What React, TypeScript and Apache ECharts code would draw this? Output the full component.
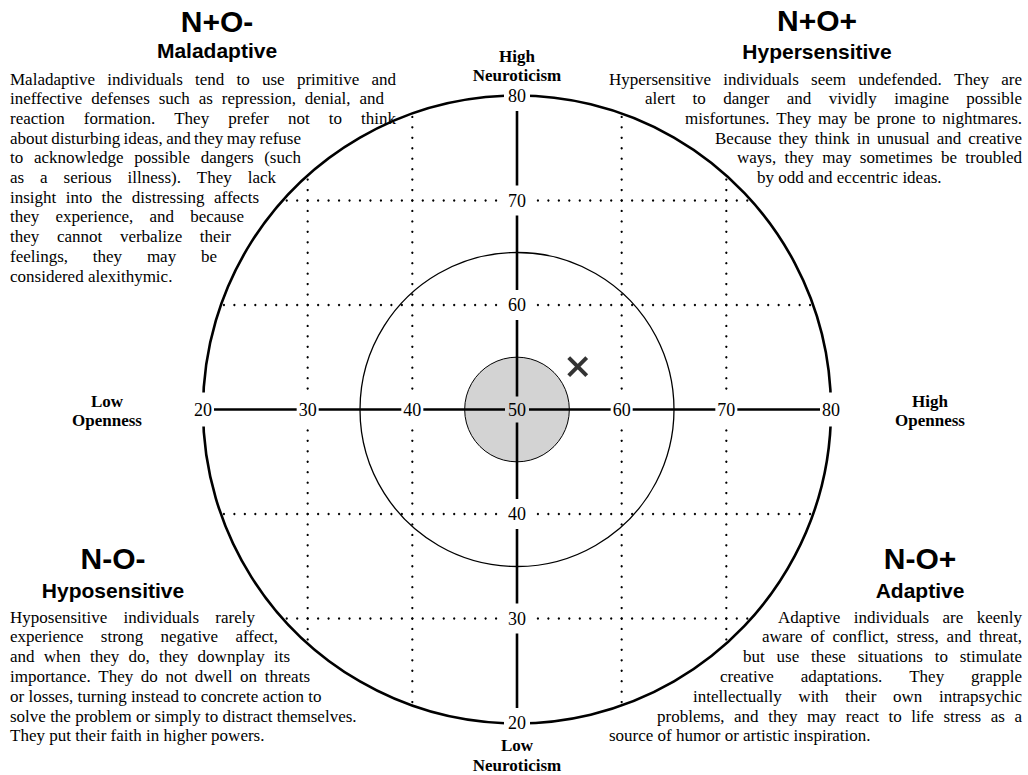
import React, { useEffect, useRef } from "react";
import * as echarts from "echarts";

// ---- chart values ----
const axisMin = 20;
const axisMax = 80;
const centerValue = 50;
const horizontalTicks = [20, 30, 40, 50, 60, 70, 80];
const verticalTicks = [20, 30, 40, 60, 70, 80];
const gridValues = [30, 40, 60, 70];
const ringRadii = [30, 15, 5];
const markerPoints = [[55.8, 54.1]];

// ---- texts ----
const quadrantCodes = ["N+O-", "N+O+", "N-O-", "N-O+"];
const quadrantNames = ["Maladaptive", "Hypersensitive", "Hyposensitive", "Adaptive"];
const maladaptiveText = [
  "Maladaptive individuals tend to use primitive and",
  "ineffective defenses such as repression, denial, and",
  "reaction formation. They prefer not to think",
  "about disturbing ideas, and they may refuse",
  "to acknowledge possible dangers (such",
  "as a serious illness).  They lack",
  "insight into the distressing affects",
  "they experience, and because",
  "they cannot verbalize their",
  "feelings, they may be",
  "considered alexithymic.",
];
const hypersensitiveText = [
  "Hypersensitive individuals seem undefended. They are",
  "alert to danger and vividly imagine possible",
  "misfortunes. They may be prone to nightmares.",
  "Because they think in unusual and creative",
  "ways, they may sometimes be troubled",
  "by odd and eccentric ideas.",
];
const hyposensitiveText = [
  "Hyposensitive individuals rarely",
  "experience strong negative affect,",
  "and when they do, they downplay its",
  "importance. They do not dwell on threats",
  "or losses, turning instead to concrete action to",
  "solve the problem or simply to distract themselves.",
  "They put their faith in higher powers.",
];
const adaptiveText = [
  "Adaptive individuals are keenly",
  "aware of  conflict, stress, and threat,",
  "but use these situations to stimulate",
  "creative adaptations. They grapple",
  "intellectually with their own intrapsychic",
  "problems, and they may react to life stress as a",
  "source of humor or artistic inspiration.",
];
const axisTitleLines = ["High", "Neuroticism", "Low", "Neuroticism", "Low", "Openness", "High", "Openness"];

// ---- layout (positions only) ----
const headerLayout = [
  { x: 217, y1: 21, y2: 50 },
  { x: 817, y1: 20, y2: 51 },
  { x: 113, y1: 558, y2: 590 },
  { x: 920, y1: 558, y2: 590 },
];
const paragraphLayout = [
  { top: 79, step: 19.7, spans: [[10, 396], [10, 384], [10, 396], [10, 301], [10, 301], [10, 276], [10, 259], [10, 244], [10, 231], [10, 217], [10, null]] },
  { top: 79, step: 19.7, spans: [[609, 1022], [645, 1022], [685, 1022], [715, 1022], [737, 1022], [757, null]] },
  { top: 617, step: 19.8, spans: [[10, 255], [10, 278], [10, 290], [10, 310], [10, null], [10, null], [10, null]] },
  { top: 617, step: 19.8, spans: [[778, 1022], [762, 1022], [743, 1022], [720, 1022], [693, 1022], [657, 1022], [609, null]] },
];
const axisTitlePos = [
  [517, 56], [517, 75], [517, 745], [517, 765], [107, 401], [107, 420], [930, 401], [930, 420],
];

const SERIF = "Liberation Serif";
const SANS = "Liberation Sans";
const BODY_SIZE = 17;
const CORE_FILL = "#d3d3d3";

function makeText(text: string, x: number, y: number, size: number, family: string, weight: string, align: string) {
  return {
    type: "text",
    x,
    y,
    silent: true,
    style: {
      text,
      fontSize: size,
      fontFamily: family,
      fontWeight: weight,
      fill: "#000",
      align,
      textAlign: align,
      verticalAlign: "middle",
      textVerticalAlign: "middle",
    },
  };
}

function buildParagraph(lines: string[], layout: any, ctx: CanvasRenderingContext2D) {
  const els: any[] = [];
  ctx.font = `${BODY_SIZE}px "${SERIF}"`;
  lines.forEach((line, i) => {
    const y = layout.top + layout.step * i;
    const [left, right] = layout.spans[i];
    const words = line.split(/\s+/).filter(Boolean);
    if (right == null || words.length < 2) {
      els.push(makeText(line, left, y, BODY_SIZE, SERIF, "normal", "left"));
      return;
    }
    const widths = words.map((w) => ctx.measureText(w).width);
    const total = widths.reduce((a, b) => a + b, 0);
    const gap = Math.max(3, (right - left - total) / (words.length - 1));
    let x = left;
    words.forEach((w, k) => {
      els.push(makeText(w, x, y, BODY_SIZE, SERIF, "normal", "left"));
      x += widths[k] + gap;
    });
  });
  return els;
}

export default function App() {
  const ref = useRef<HTMLDivElement>(null);
  useEffect(() => {
    if (!ref.current) return;
    const chart = echarts.init(ref.current, undefined, { renderer: "svg" });
    const canvas = document.createElement("canvas");
    const ctx = canvas.getContext("2d") as CanvasRenderingContext2D;

    const graphics: any[] = [];
    quadrantCodes.forEach((code, i) => {
      const h = headerLayout[i];
      graphics.push(makeText(code, h.x, h.y1, 30, SANS, "bold", "center"));
      graphics.push(makeText(quadrantNames[i], h.x, h.y2, 21, SANS, "bold", "center"));
    });
    [maladaptiveText, hypersensitiveText, hyposensitiveText, adaptiveText].forEach((lines, i) => {
      graphics.push(...buildParagraph(lines, paragraphLayout[i], ctx));
    });
    axisTitleLines.forEach((t, i) => {
      graphics.push(makeText(t, axisTitlePos[i][0], axisTitlePos[i][1], 17, SERIF, "bold", "center"));
    });

    const outerR = ringRadii[0];
    const ringStyles = [
      { fill: "none", stroke: "#000", lineWidth: 2.6 },
      { fill: "none", stroke: "#000", lineWidth: 1.3 },
      { fill: CORE_FILL, stroke: "#000", lineWidth: 1 },
    ];

    const labelStyle = (padding: number[], bg: string) => ({
      fontSize: 18,
      fontFamily: SERIF,
      fill: "#000",
      align: "center",
      textAlign: "center",
      verticalAlign: "middle",
      textVerticalAlign: "middle",
      backgroundColor: bg,
      padding,
      lineHeight: 18,
    });

    const option: any = {
      animation: false,
      backgroundColor: "#fff",
      grid: { left: 203, top: 96, width: 628, height: 627 },
      xAxis: { type: "value", min: axisMin, max: axisMax, show: false },
      yAxis: { type: "value", min: axisMin, max: axisMax, show: false },
      graphic: { elements: graphics },
      series: [
        {
          type: "custom",
          z: 1,
          silent: true,
          data: ringRadii.map((r) => [centerValue, centerValue, r]),
          renderItem: (params: any, api: any) => {
            const c = api.coord([api.value(0), api.value(1)]);
            const r = api.size([api.value(2), 0])[0];
            return { type: "circle", shape: { cx: c[0], cy: c[1], r }, style: ringStyles[params.dataIndex] };
          },
        },
        {
          type: "custom",
          z: 2,
          silent: true,
          data: gridValues.flatMap((v) => [[v, 0], [v, 1]]),
          renderItem: (params: any, api: any) => {
            const v = api.value(0);
            const orient = api.value(1);
            const half = Math.sqrt(outerR * outerR - (v - centerValue) * (v - centerValue));
            const children: any[] = [];
            for (let t = Math.ceil(centerValue - half); t <= Math.floor(centerValue + half); t++) {
              const p = orient === 0 ? api.coord([v, t]) : api.coord([t, v]);
              children.push({ type: "circle", shape: { cx: p[0], cy: p[1], r: 1.15 }, style: { fill: "#000" } });
            }
            return { type: "group", children };
          },
        },
        {
          type: "custom",
          z: 3,
          silent: true,
          data: [[0], [1]],
          renderItem: (params: any, api: any) => {
            const horiz = api.value(0) === 0;
            const a = horiz ? api.coord([axisMin, centerValue]) : api.coord([centerValue, axisMin]);
            const b = horiz ? api.coord([axisMax, centerValue]) : api.coord([centerValue, axisMax]);
            return {
              type: "line",
              shape: { x1: a[0], y1: a[1], x2: b[0], y2: b[1] },
              style: { stroke: "#000", lineWidth: 2.6 },
            };
          },
        },
        {
          type: "custom",
          z: 4,
          silent: true,
          data: markerPoints,
          renderItem: (params: any, api: any) => {
            const c = api.coord([api.value(0), api.value(1)]);
            const arm = 9;
            const st = { stroke: "#333", lineWidth: 4 };
            return {
              type: "group",
              children: [
                { type: "line", shape: { x1: c[0] - arm, y1: c[1] - arm, x2: c[0] + arm, y2: c[1] + arm }, style: st },
                { type: "line", shape: { x1: c[0] - arm, y1: c[1] + arm, x2: c[0] + arm, y2: c[1] - arm }, style: st },
              ],
            };
          },
        },
        {
          type: "custom",
          z: 5,
          silent: true,
          data: horizontalTicks.map((t) => [t, centerValue, t]),
          renderItem: (params: any, api: any) => {
            const c = api.coord([api.value(0), api.value(1)]);
            const v = api.value(2);
            const isCenter = v === centerValue;
            return {
              type: "text",
              x: c[0],
              y: c[1],
              style: { ...labelStyle(isCenter ? [4, 3] : [8, 2], isCenter ? CORE_FILL : "#fff"), text: String(v) },
            };
          },
        },
        {
          type: "custom",
          z: 5,
          silent: true,
          data: verticalTicks.map((t) => [centerValue, t, t]),
          renderItem: (params: any, api: any) => {
            const c = api.coord([api.value(0), api.value(1)]);
            return { type: "text", x: c[0], y: c[1], style: { ...labelStyle([6, 4], "#fff"), text: String(api.value(2)) } };
          },
        },
      ],
    };
    chart.setOption(option);
    return () => chart.dispose();
  }, []);
  return <div ref={ref} style={{ position: "absolute", left: 0, top: 0, width: 1028, height: 775 }} />;
}
